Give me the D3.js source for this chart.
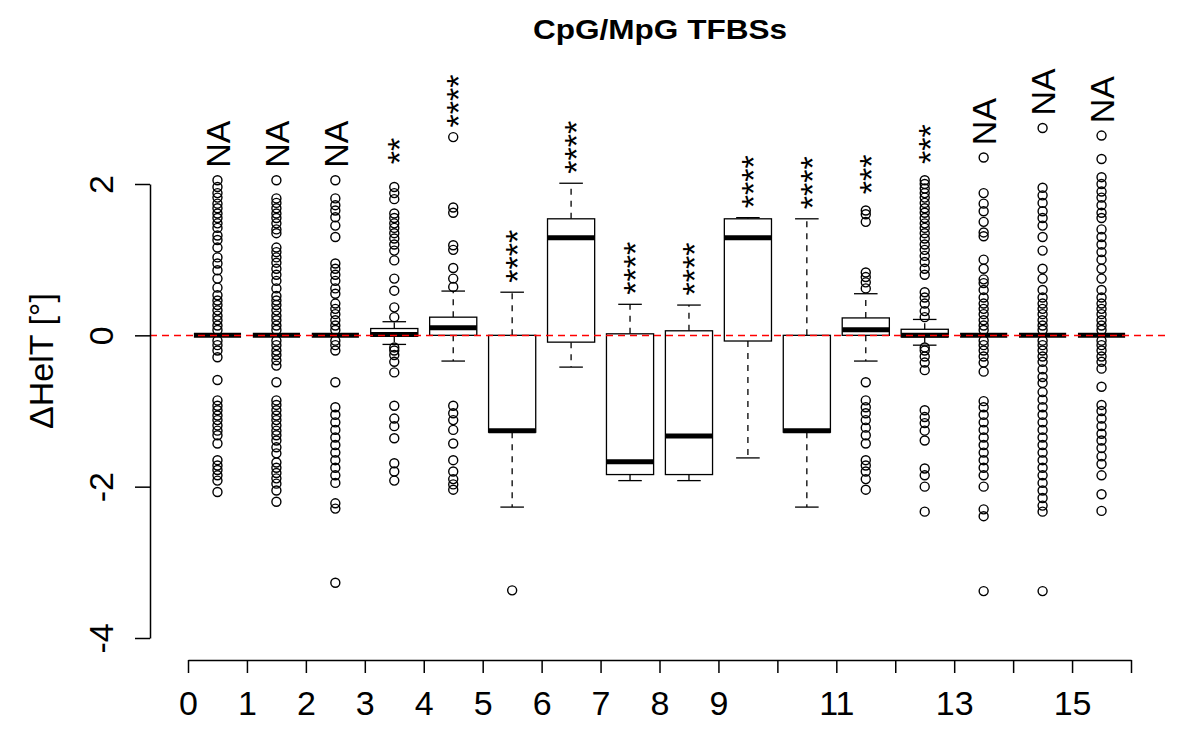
<!DOCTYPE html>
<html>
<head>
<meta charset="utf-8">
<script src="https://cdn.jsdelivr.net/npm/d3@7"></script>
<style>
  html, body { margin: 0; padding: 0; background: #fff; }
  svg { display: block; }
</style>
</head>
<body>
<svg id="chart" width="1200" height="750"></svg>
<script>
// ---------------- data ----------------
const categories = d3.range(16).map(String);
const xTickLabels = ["0","1","2","3","4","5","6","7","8","9","","11","","13","","15",""];
const yTicks = [-4, -2, 0, 2];

const whiskerLow  = [0, 0, 0, -0.12, -0.34, -2.27, -0.42, -1.92, -1.92, -1.62, -2.27, -0.34, -0.13, 0, 0, 0];
const q1          = [0, 0, 0, -0.01,  0.00, -1.28, -0.09, -1.84, -1.84, -0.075, -1.28, 0.00, -0.02, 0, 0, 0];
const medians     = [0, 0, 0,  0.01,  0.10, -1.26,  1.29, -1.67, -1.33,  1.29, -1.26, 0.075, 0.00, 0, 0, 0];
const q3          = [0, 0, 0,  0.09,  0.24,  0.00,  1.54,  0.02,  0.06,  1.54,  0.00, 0.23, 0.08, 0, 0, 0];
const whiskerHigh = [0, 0, 0,  0.18,  0.585, 0.57,  2.01,  0.41,  0.40,  1.555, 1.54, 0.55, 0.21, 0, 0, 0];

const outliers = [
  [2.05,1.96,1.88,1.82,1.74,1.68,1.61,1.55,1.48,1.42,1.32,1.26,1.16,1.03,0.95,0.86,0.75,0.63,0.53,0.46,0.40,0.33,0.26,0.20,0.13,0.07,-0.07,-0.13,-0.20,-0.29,-0.59,-0.86,-0.93,-0.99,-1.06,-1.12,-1.19,-1.26,-1.32,-1.43,-1.65,-1.72,-1.78,-1.85,-1.92,-2.07],
  [2.05,1.81,1.75,1.68,1.61,1.55,1.48,1.40,1.35,1.16,1.10,1.03,0.96,0.88,0.80,0.72,0.62,0.52,0.46,0.40,0.33,0.26,0.20,0.13,0.07,-0.07,-0.13,-0.20,-0.26,-0.33,-0.40,-0.62,-0.86,-0.92,-0.99,-1.06,-1.12,-1.19,-1.26,-1.32,-1.39,-1.48,-1.56,-1.68,-1.75,-1.82,-1.89,-1.96,-2.05,-2.20],
  [2.05,1.81,1.72,1.65,1.56,1.45,1.30,0.95,0.88,0.80,0.72,0.62,0.55,0.42,0.35,0.28,0.20,0.13,0.07,-0.07,-0.13,-0.20,-0.62,-0.95,-1.05,-1.15,-1.25,-1.35,-1.45,-1.55,-1.65,-1.75,-1.85,-1.95,-2.22,-2.29,-3.27],
  [1.96,1.88,1.80,1.61,1.55,1.48,1.42,1.35,1.28,1.20,1.12,0.99,0.75,0.59,0.37,0.24,-0.16,-0.20,-0.26,-0.35,-0.49,-0.93,-1.10,-1.20,-1.36,-1.69,-1.80,-1.92],
  [2.62,1.69,1.62,1.19,1.13,0.89,0.75,0.64,-0.93,-1.03,-1.12,-1.25,-1.43,-1.65,-1.80,-1.90,-1.97,-2.04],
  [-3.37],
  [],
  [],
  [],
  [],
  [],
  [1.65,1.60,1.50,0.83,0.77,0.70,0.62,-0.62,-0.86,-0.95,-1.03,-1.12,-1.22,-1.32,-1.43,-1.65,-1.72,-1.80,-1.90,-2.04],
  [2.05,2.00,1.94,1.88,1.82,1.75,1.68,1.62,1.55,1.48,1.42,1.35,1.28,1.20,1.13,1.05,0.97,0.88,0.80,0.57,0.50,0.42,0.32,0.24,-0.16,-0.20,-0.28,-0.36,-0.46,-0.99,-1.08,-1.16,-1.26,-1.39,-1.76,-1.85,-2.00,-2.33],
  [2.35,1.88,1.74,1.64,1.50,1.36,1.31,1.00,0.88,0.74,0.69,0.60,0.50,0.42,0.35,0.28,0.20,0.13,0.07,-0.07,-0.13,-0.20,-0.28,-0.36,-0.48,-0.87,-0.95,-1.05,-1.15,-1.25,-1.35,-1.45,-1.55,-1.65,-1.75,-1.85,-2.00,-2.30,-2.39,-3.38],
  [2.74,1.95,1.85,1.75,1.64,1.55,1.45,1.30,1.12,0.88,0.75,0.60,0.50,0.42,0.35,0.28,0.20,0.13,0.07,-0.07,-0.13,-0.20,-0.28,-0.35,-0.45,-0.55,-0.63,-0.75,-0.85,-0.95,-1.05,-1.15,-1.25,-1.35,-1.45,-1.55,-1.65,-1.75,-1.85,-1.95,-2.05,-2.15,-2.25,-2.33,-3.38],
  [2.64,2.33,2.09,2.00,1.90,1.82,1.72,1.62,1.55,1.40,1.30,1.20,1.10,1.00,0.88,0.75,0.60,0.50,0.42,0.35,0.28,0.20,0.13,0.07,-0.07,-0.13,-0.20,-0.28,-0.35,-0.44,-0.68,-0.92,-1.00,-1.10,-1.20,-1.30,-1.39,-1.49,-1.60,-1.70,-1.85,-2.10,-2.32]
];

const annotations = ["NA","NA","NA","**","****","****","****","****","****","****","****","***","***","NA","NA","NA"];

const titleText = "CpG/MpG TFBSs";
const yLabelText = "ΔHelT [°]";

// ---------------- drawing ----------------
const FONT = "'Liberation Sans', Arial, Helvetica, sans-serif";
const svg = d3.select("#chart");

const x = d3.scaleLinear().domain([0, 16]).range([188, 1131]);
const y = d3.scaleLinear().domain([-4, 2]).range([638, 184]);
const boxHalf = (x(0.8) - x(0)) / 2;      // boxwex 0.8
const capHalf = boxHalf / 2;               // staplewex 0.5

const groups = categories.map((c, i) => ({
  i, cx: x(i + 0.5),
  lo: whiskerLow[i], q1: q1[i], med: medians[i], q3: q3[i], hi: whiskerHigh[i],
  out: outliers[i], label: annotations[i]
}));

const g = svg.append("g");

groups.forEach(d => {
  const gg = g.append("g");
  // whiskers (dashed)
  gg.append("line").attr("x1", d.cx).attr("x2", d.cx)
    .attr("y1", y(d.q3)).attr("y2", y(d.hi))
    .attr("stroke", "#000").attr("stroke-width", 1.3).attr("stroke-dasharray", "6,6");
  gg.append("line").attr("x1", d.cx).attr("x2", d.cx)
    .attr("y1", y(d.q1)).attr("y2", y(d.lo))
    .attr("stroke", "#000").attr("stroke-width", 1.3).attr("stroke-dasharray", "6,6");
  // caps
  [d.hi, d.lo].forEach(v => {
    gg.append("line").attr("x1", d.cx - capHalf).attr("x2", d.cx + capHalf)
      .attr("y1", y(v)).attr("y2", y(v))
      .attr("stroke", "#000").attr("stroke-width", 1.3);
  });
  // box
  gg.append("rect").attr("x", d.cx - boxHalf).attr("width", 2 * boxHalf)
    .attr("y", y(d.q3)).attr("height", Math.max(0, y(d.q1) - y(d.q3)))
    .attr("fill", "#fff").attr("stroke", "#000").attr("stroke-width", 1.3);
  // median
  gg.append("line").attr("x1", d.cx - boxHalf).attr("x2", d.cx + boxHalf)
    .attr("y1", y(d.med)).attr("y2", y(d.med))
    .attr("stroke", "#000").attr("stroke-width", 5);
  // outliers
  gg.selectAll("circle").data(d.out).join("circle")
    .attr("cx", d.cx).attr("cy", v => y(v)).attr("r", 4.5)
    .attr("fill", "none").attr("stroke", "#000").attr("stroke-width", 1.4);
});

// red reference line at 0
const y0 = Math.round(y(0)) + 0.5;
svg.append("line")
  .attr("x1", 150).attr("x2", 1168)
  .attr("y1", y0).attr("y2", y0)
  .attr("stroke", "#ff0000").attr("stroke-width", 1.6).attr("stroke-dasharray", "7,5");

// significance annotations (rotated)
groups.forEach(d => {
  const top = d3.max([d.hi, ...d.out]);
  const cy = y(top) - 36;
  const isStar = d.label.startsWith("*");
  svg.append("text")
    .attr("transform", `translate(${d.cx},${cy}) rotate(-90)`)
    .attr("text-anchor", "middle")
    .attr("dy", isStar ? "0.5em" : "0.36em")
    .attr("font-family", FONT).attr("font-size", 34)
    .text(d.label);
});

// y axis
const yAxis = svg.append("g").attr("transform", "translate(150,0)")
  .call(d3.axisLeft(y).tickValues(yTicks).tickSize(15).tickSizeOuter(0).tickFormat(d => String(d)));
yAxis.select(".domain").attr("stroke-width", 1.5);
yAxis.selectAll(".tick line").attr("stroke-width", 1.5);
yAxis.selectAll(".tick text")
  .attr("x", null).attr("dy", null)
  .attr("transform", "translate(-37,0) rotate(-90)")
  .attr("text-anchor", "middle")
  .attr("font-family", FONT).attr("font-size", 34).attr("fill", "#000");

// x axis
const xAxis = svg.append("g").attr("transform", "translate(0,660)")
  .call(d3.axisBottom(x).tickValues(d3.range(17)).tickSize(13).tickSizeOuter(0)
    .tickFormat(i => xTickLabels[i]));
xAxis.select(".domain").attr("stroke-width", 1.5);
xAxis.selectAll(".tick line").attr("stroke-width", 1.5);
xAxis.selectAll(".tick text")
  .attr("y", 55).attr("dy", null)
  .attr("font-family", FONT).attr("font-size", 34).attr("fill", "#000");

// title
svg.append("text").attr("x", 660).attr("y", 39)
  .attr("text-anchor", "middle").attr("font-family", FONT)
  .attr("font-weight", "bold").attr("font-size", 28)
  .attr("textLength", 254).attr("lengthAdjust", "spacingAndGlyphs")
  .text(titleText);

// y label
svg.append("text")
  .attr("transform", "translate(53,361) rotate(-90)")
  .attr("text-anchor", "middle").attr("font-family", FONT).attr("font-size", 34)
  .text(yLabelText);
</script>
</body>
</html>
